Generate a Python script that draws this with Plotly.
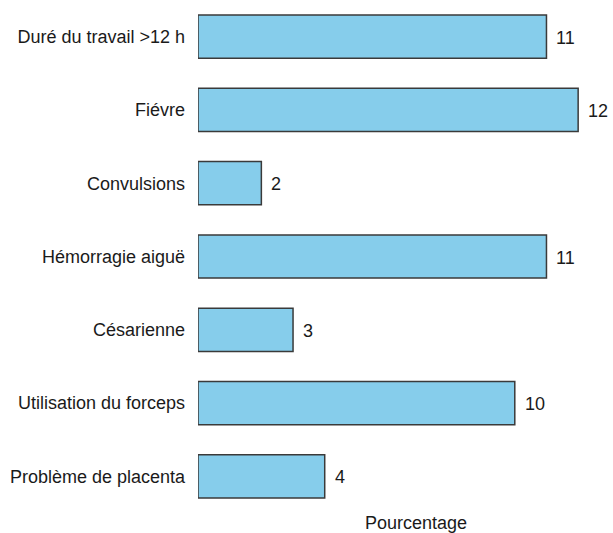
import plotly.graph_objects as go

categories = [
    "Duré du travail >12 h",
    "Fiévre",
    "Convulsions",
    "Hémorragie aiguë",
    "Césarienne",
    "Utilisation du forceps",
    "Problème de placenta",
]
values = [11, 12, 2, 11, 3, 10, 4]
axis_title = "Pourcentage"

font = dict(family="Liberation Sans, Arial, sans-serif", size=18, color="#1a1a1a")

fig = go.Figure(
    go.Bar(
        x=values,
        y=categories,
        orientation="h",
        marker=dict(color="#86CDEB", line=dict(color="#3a3a3a", width=1.5)),
        width=0.59,
    )
)

# value labels just to the right of each bar end
value_labels = [
    dict(
        x=v,
        y=c,
        xref="x",
        yref="y",
        text=str(v),
        xanchor="left",
        yanchor="middle",
        xshift=8,
        yshift=-1,
        showarrow=False,
        font=font,
    )
    for c, v in zip(categories, values)
]

fig.update_layout(
    width=613,
    height=533,
    margin=dict(l=198, r=0, t=0, b=20),
    paper_bgcolor="white",
    plot_bgcolor="white",
    showlegend=False,
    font=font,
    xaxis=dict(range=[0, 13.1], visible=False),
    yaxis=dict(
        autorange="reversed",
        showgrid=False,
        showline=False,
        zeroline=False,
        ticks="",
        ticklabelstandoff=12,
        tickfont=font,
    ),
    annotations=value_labels
    + [
        dict(
            text=axis_title,
            xref="paper",
            yref="paper",
            x=(416 - 198) / 415,
            y=0,
            xanchor="center",
            yanchor="middle",
            yshift=-10,
            showarrow=False,
            font=font,
        )
    ],
)

fig.write_html("out.html")
